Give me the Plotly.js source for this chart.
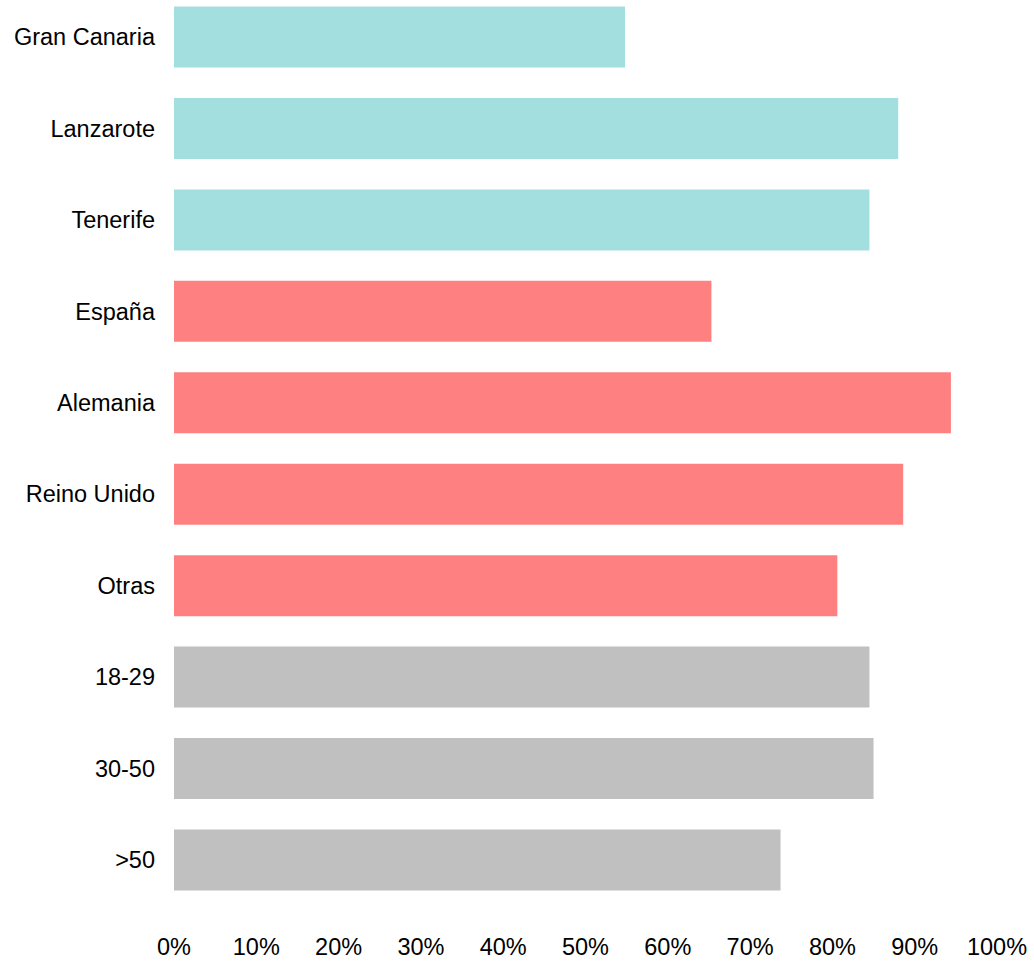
<!DOCTYPE html>
<html>
<head>
<meta charset="utf-8">
<script src="https://cdn.plot.ly/plotly-3.0.1.min.js"></script>
<style>html,body{margin:0;padding:0;background:#fff;}#chart{width:1034px;height:962px;}</style>
</head>
<body>
<div id="chart"></div>
<script>
const categories = ["Gran Canaria", "Lanzarote", "Tenerife", "España", "Alemania", "Reino Unido", "Otras", "18-29", "30-50", ">50"];
const values = [54.8, 88.0, 84.5, 65.3, 94.4, 88.6, 80.6, 84.5, 85.0, 73.7];
const groups = ["isla", "isla", "isla", "nacionalidad", "nacionalidad", "nacionalidad", "nacionalidad", "edad", "edad", "edad"];
const tickVals = [0, 10, 20, 30, 40, 50, 60, 70, 80, 90, 100];

const groupColors = {isla: "#A3DFDF", nacionalidad: "#FF8080", edad: "#C0C0C0"};

const plotBottom = 918;
const unit = 91.44;
const topVal = -37 / unit;
const botVal = topVal + plotBottom / unit;

const trace = {
  type: "bar",
  orientation: "h",
  y: categories,
  x: values,
  marker: {color: groups.map(g => groupColors[g])},
  hoverinfo: "x+y"
};

const layout = {
  width: 1034,
  height: 962,
  margin: {l: 174, r: 37, t: 0, b: 962 - plotBottom},
  paper_bgcolor: "#fff",
  plot_bgcolor: "#fff",
  bargap: 0.333,
  showlegend: false,
  font: {family: "Liberation Sans, Arial, sans-serif", size: 23.5, color: "#000"},
  xaxis: {
    range: [0, 100],
    tickvals: tickVals,
    ticktext: tickVals.map(v => v + "%"),
    showgrid: false,
    zeroline: false,
    showline: false,
    ticks: "",
    ticklabelstandoff: 12,
    tickfont: {size: 23.5}
  },
  yaxis: {
    type: "category",
    range: [botVal, topVal],
    showgrid: false,
    zeroline: false,
    showline: false,
    ticks: "",
    ticklabelstandoff: 18,
    tickfont: {size: 23.5}
  }
};

Plotly.newPlot("chart", [trace], layout, {displayModeBar: false, staticPlot: true});
</script>
</body>
</html>
